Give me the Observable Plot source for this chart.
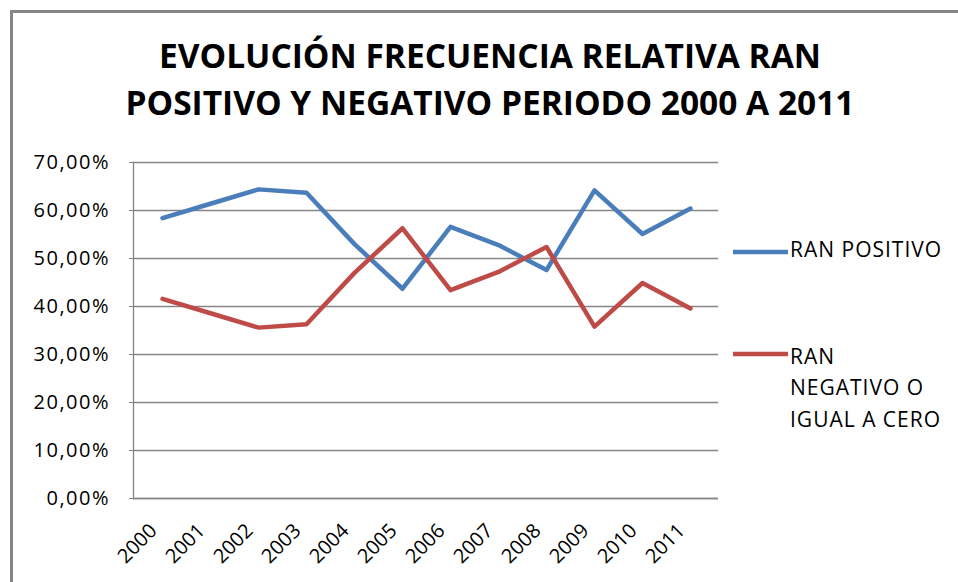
<!DOCTYPE html>
<html><head><meta charset="utf-8">
<script src="https://cdn.jsdelivr.net/npm/d3@7"></script>
<script src="https://cdn.jsdelivr.net/npm/@observablehq/plot@0.6"></script>
<style>
html,body{margin:0;padding:0;background:#fff;overflow:hidden;}
#wrap{position:relative;width:958px;height:582px;overflow:hidden;font-family:"Open Sans",sans-serif;color:#000;}
#frame{position:absolute;left:10px;top:10px;width:1200px;height:1000px;border:3px solid #868686;box-sizing:border-box;pointer-events:none;}
#title{position:relative;height:140px;font-weight:bold;font-size:33.5px;}
#title div{position:absolute;left:22px;right:0;text-align:center;line-height:1;white-space:nowrap;}
#chart{position:relative;}
#chart svg g[aria-label="y-axis tick label"]{font-size:20px;letter-spacing:1.5px;}
#chart svg g[aria-label="x-axis tick label"]{font-size:20px;}
#legend{position:absolute;left:733px;top:0;font-size:21px;letter-spacing:1px;}
.item{position:absolute;left:0;width:230px;}
.item svg{position:absolute;left:0;}
.item .lab{position:absolute;left:57px;width:156px;line-height:31.5px;white-space:normal;}
</style></head>
<body>
<div id="wrap">
  <div id="title"></div>
  <div id="chart"></div>
  <div id="legend"></div>
  <div id="frame"></div>
</div>
<script>
const titleLines = ["EVOLUCIÓN  FRECUENCIA RELATIVA RAN", "POSITIVO Y NEGATIVO PERIODO 2000 A 2011"];
const years = ["2000","2001","2002","2003","2004","2005","2006","2007","2008","2009","2010","2011"];
const ranPositivo = [58.4, 61.4, 64.4, 63.7, 53.0, 43.7, 56.6, 52.8, 47.6, 64.2, 55.1, 60.4];
const ranNegativo = [41.6, 38.6, 35.6, 36.3, 47.0, 56.3, 43.4, 47.2, 52.4, 35.8, 44.9, 39.6];
const seriesNames = ["RAN POSITIVO", "RAN NEGATIVO O IGUAL A CERO"];
const seriesColors = ["#4a7ebb", "#be4b48"];
const yTicks = [0, 10, 20, 30, 40, 50, 60, 70];

// title
const tEl = document.getElementById("title");
const titleTops = [39, 86];
titleLines.forEach((t, i) => {
  const d = document.createElement("div");
  d.textContent = t;
  d.style.top = titleTops[i] + "px";
  tEl.appendChild(d);
});

const data = years.flatMap((y, i) => [
  {year: y, value: ranPositivo[i], serie: seriesNames[0]},
  {year: y, value: ranNegativo[i], serie: seriesNames[1]}
]);
const fmt = d => d.toFixed(2).replace(".", ",") + "%";

const chart = Plot.plot({
  width: 958, height: 442, marginTop: 22, marginBottom: 84, marginLeft: 133, marginRight: 240,
  style: {fontFamily: "'Open Sans', sans-serif", fontSize: "19px", color: "#000", background: "transparent", overflow: "visible"},
  x: {type: "point", domain: years, padding: 0.5, label: null},
  y: {domain: [0, 70], label: null},
  color: {domain: seriesNames, range: seriesColors},
  marks: [
    Plot.gridY(yTicks, {stroke: "#868686", strokeOpacity: 1, strokeWidth: 1.3}),
    Plot.axisY(yTicks, {tickFormat: fmt, tickSize: 4, tickPadding: 19.5, stroke: "#868686", fill: "#000", fontSize: 20}),
    Plot.axisX({tickRotate: -45, tickSize: 0, tickPadding: 29, dx: -9, fill: "#000", fontSize: 20}),
    Plot.frame({anchor: "left", stroke: "#868686", strokeWidth: 1.3}),
    Plot.ruleY([0], {stroke: "#868686", strokeWidth: 1.3}),
    Plot.lineY(data, {x: "year", y: "value", stroke: "serie", strokeWidth: 4.5})
  ]
});
document.getElementById("chart").appendChild(chart);

// legend
const leg = document.getElementById("legend");
const legTops = [252, 354];
const labOffsets = [-18, -13.5];
seriesNames.forEach((name, i) => {
  const it = document.createElement("div");
  it.className = "item";
  it.style.top = legTops[i] + "px";
  it.innerHTML = `<svg width="56" height="8" style="top:-4px"><line x1="0" x2="55" y1="4" y2="4" stroke="${seriesColors[i]}" stroke-width="4.5"/></svg><div class="lab" style="top:${labOffsets[i]}px">${name}</div>`;
  leg.appendChild(it);
});
</script>
</body></html>
